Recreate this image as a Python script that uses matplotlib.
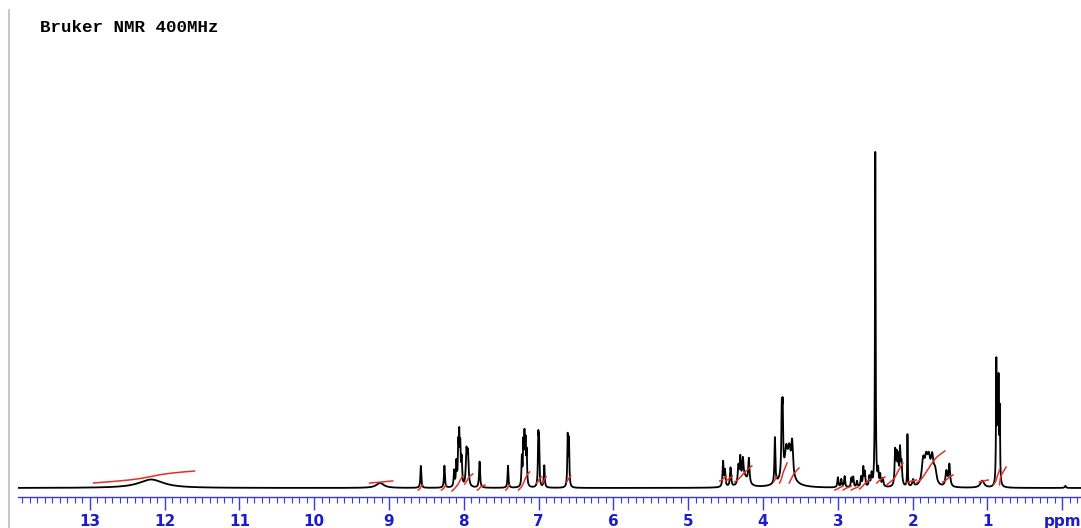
import numpy as np
import matplotlib
matplotlib.use('Agg')
from matplotlib import pyplot as plt
from matplotlib.lines import Line2D
from matplotlib.ticker import MultipleLocator, FixedLocator, FuncFormatter

# peak list (ppm, height in px above baseline, half width in ppm)
peak_ppm = [12.18, 9.12, 8.575, 8.26, 8.13, 8.10, 8.075, 8.062, 8.048, 8.03,
            7.965, 7.945, 7.79, 7.41, 7.225, 7.205, 7.19, 7.175, 7.16,
            7.005, 6.995, 6.925, 6.612, 6.595,
            4.535, 4.51, 4.435, 4.33, 4.305, 4.27, 4.19, 4.25,
            3.842, 3.75, 3.738, 3.69, 3.65, 3.612, 3.68,
            3.0, 2.955, 2.91, 2.82, 2.795, 2.745, 2.69, 2.66, 2.64, 2.58, 2.55,
            2.50, 2.462, 2.435, 2.40,
            2.235, 2.215, 2.195, 2.17, 2.15, 2.07, 1.995,
            1.86, 1.82, 1.785, 1.74, 1.70, 1.55, 1.51, 1.07,
            0.882, 0.866, 0.852, 0.836, -0.04]
peak_height = [8.5, 5, 22, 22, 16, 24, 38, 46, 36, 26,
               34, 32, 26, 22, 28, 40, 46, 40, 32,
               46, 42, 22, 50, 46,
               25, 16, 19, 18, 24, 20, 25, 10,
               46, 62, 60, 24, 24, 34, 12,
               10, 8, 11, 9, 10, 6, 10, 19, 14, 10, 12,
               335, 15, 11, 8,
               34, 28, 26, 34, 22, 52, 7,
               24, 22, 22, 26, 13, 15, 22, 7,
               120, 82, 96, 72, 2]
peak_hw = [0.20, 0.06, 0.007, 0.007, 0.007, 0.007, 0.006, 0.006, 0.006, 0.007,
           0.010, 0.010, 0.008, 0.007, 0.006, 0.006, 0.006, 0.006, 0.006,
           0.006, 0.006, 0.007, 0.006, 0.006,
           0.008, 0.008, 0.009, 0.010, 0.008, 0.010, 0.010, 0.05,
           0.007, 0.007, 0.007, 0.020, 0.020, 0.014, 0.10,
           0.008, 0.008, 0.008, 0.008, 0.008, 0.008, 0.008, 0.007, 0.007, 0.008, 0.008,
           0.005, 0.007, 0.008, 0.010,
           0.008, 0.008, 0.008, 0.008, 0.010, 0.004, 0.012,
           0.022, 0.022, 0.022, 0.022, 0.022, 0.014, 0.012, 0.030,
           0.005, 0.005, 0.005, 0.005, 0.010]

# integral regions: start ppm, end ppm, offset above baseline, rise (px)
int_start = [12.95, 9.26, 8.61, 8.30, 8.16, 7.99, 7.82, 7.44, 7.27, 7.03, 6.95, 6.63,
             4.58, 4.50, 4.38, 3.86, 3.78, 3.65, 3.04, 2.93, 2.82, 2.71, 2.48, 2.35,
             2.08, 1.95, 1.60, 1.11, 0.92, 0.84]
int_end = [11.60, 8.95, 8.55, 8.23, 8.01, 7.88, 7.72, 7.39, 7.12, 6.96, 6.90, 6.57,
           4.49, 4.41, 4.15, 3.81, 3.68, 3.52, 2.93, 2.82, 2.73, 2.57, 2.37, 2.13,
           1.95, 1.57, 1.46, 0.99, 0.84, 0.75]
int_base = [5, 5, -2, -2, -3, 4, -2, -2, -2, 5, 5, 6,
            7, 7, 6, 6, 5, 5, -2, -2, -2, -1, 5, 3,
            5, 5, 6, 6, 3, 3]
int_rise = [12, 2, 5, 5, 15, 10, 5, 5, 18, 6, 6, 6,
            5, 5, 16, 6, 20, 15, 4, 4, 3, 10, 6, 22,
            3, 32, 7, 2, 15, 18]

tick_vals = list(range(0, 14))
tick_text = ['ppm'] + [str(v) for v in range(1, 14)]

ppm = np.linspace(13.96, -0.25, 30000)
spec = np.zeros_like(ppm)
for p, h, w in zip(peak_ppm, peak_height, peak_hw):
    spec += h / (1 + ((ppm - p) / w) ** 2)

fig = plt.figure(figsize=(10.81, 5.28), dpi=100)
ax = fig.add_axes([18 / 1081, 31 / 528, 1063 / 1081, 497 / 528])
ax.plot(ppm, spec, color='black', lw=1.3)

for s, e, b, r in zip(int_start, int_end, int_base, int_rise):
    m = (ppm <= s) & (ppm >= e)
    cum = np.cumsum(spec[m])
    cum = cum / cum[-1]
    lin = np.linspace(0, 1, m.sum())
    # integral traces in the original look smoothed, close to straight slants
    ax.plot(ppm[m], b + r * (0.45 * cum + 0.55 * lin), color='#e03228', lw=1.1)

ax.set_xlim(13.96, -0.25)
ax.set_ylim(-9, 488)
for side in ['top', 'left', 'right']:
    ax.spines[side].set_visible(False)
blue = '#3a3ad6'
ax.spines['bottom'].set_color(blue)
ax.spines['bottom'].set_linewidth(1.0)
ax.set_yticks([])
ax.xaxis.set_major_locator(FixedLocator(tick_vals))
ax.xaxis.set_minor_locator(MultipleLocator(0.1))
ax.xaxis.set_major_formatter(FuncFormatter(lambda v, pos: tick_text[int(round(v))]))
ax.tick_params(axis='x', which='major', direction='out', length=9, width=1.0,
               color=blue, labelcolor='#1c1cc8', pad=3)
ax.tick_params(axis='x', which='minor', direction='out', length=4, width=0.8, color=blue)
for lab in ax.get_xticklabels():
    lab.set_fontweight('bold')
    lab.set_fontsize(11)
    lab.set_family('DejaVu Sans')

fig.text(40 / 1081, 1 - 27 / 528, 'Bruker NMR 400MHz', family='Liberation Mono',
         fontweight='bold', fontsize=12.6, va='center', ha='left')
fig.add_artist(Line2D([8.5 / 1081, 8.5 / 1081], [0, 1 - 10 / 528], color='#c8c8c8', lw=1.5))

fig.savefig('out.png', dpi=100)
